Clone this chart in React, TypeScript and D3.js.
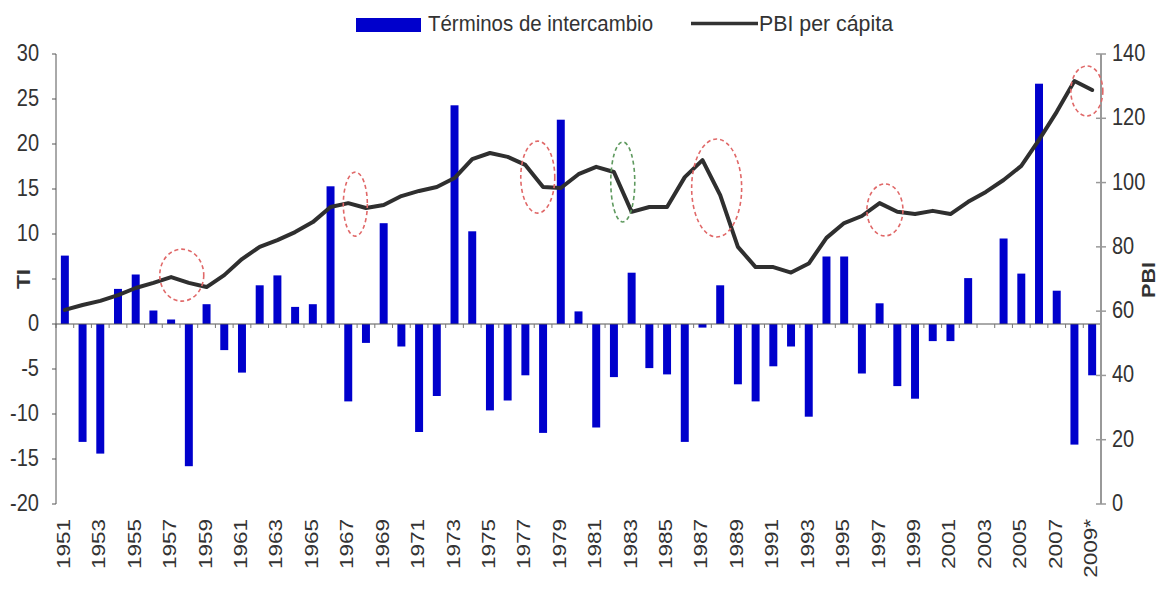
import React from "react";
import * as d3 from "d3";

const years: string[] = d3.range(1951, 2010).map((y) => (y === 2009 ? "2009*" : String(y)));

const termsOfTrade: number[] = [
  7.6, -13.1, -14.4, 3.9, 5.5, 1.5, 0.5, -15.8, 2.2, -2.9,
  -5.4, 4.3, 5.4, 1.9, 2.2, 15.3, -8.6, -2.1, 11.2, -2.5,
  -12.0, -8.0, 24.3, 10.3, -9.6, -8.5, -5.7, -12.1, 22.7, 1.4,
  -11.5, -5.9, 5.7, -4.9, -5.6, -13.1, -0.4, 4.3, -6.7, -8.6,
  -4.7, -2.5, -10.3, 7.5, 7.5, -5.5, 2.3, -6.9, -8.3, -1.9,
  -1.9, 5.1, 0, 9.5, 5.6, 26.7, 3.7, -13.4, -5.7,
];

const pbiPerCapita: number[] = [
  60.4, 61.9, 63.2, 65.0, 67.2, 68.8, 70.6, 68.8, 67.5, 71.2,
  76.2, 80.0, 82.1, 84.6, 87.7, 92.4, 93.6, 92.1, 93.0, 95.8,
  97.4, 98.6, 101.4, 107.3, 109.2, 108.0, 105.5, 98.6, 98.3, 102.6,
  104.9, 103.3, 90.9, 92.4, 92.4, 101.7, 107.0, 96.1, 80.0, 73.7,
  73.7, 72.0, 74.8, 82.8, 87.4, 89.6, 93.6, 90.9, 90.2, 91.2,
  90.2, 94.0, 97.1, 100.8, 105.2, 113.3, 122.0, 131.6, 128.8,
];

const leftTicks: number[] = [30, 25, 20, 15, 10, 5, 0, -5, -10, -15, -20];
const rightTicks: number[] = [140, 120, 100, 80, 60, 40, 20, 0];

// annotation ellipses: fractional year index from 1951, PBI value, radii, colour
const annoYear: number[] = [6.6, 16.4, 26.7, 31.5, 36.8, 46.3, 57.7];
const annoPbi: number[] = [71.2, 93.3, 101.7, 100.2, 98.3, 91.5, 128.5];
const annoRx: number[] = [22, 12, 17, 12, 25, 18, 16];
const annoRy: number[] = [26, 32, 36, 40, 49, 26, 25];
const annoColor: string[] = ["red", "red", "red", "green", "red", "red", "red"];

const legendLabels: string[] = ["Términos de intercambio", "PBI per cápita"];

const W = 1172;
const H = 589;
const left = 56;
const right = 1101;
const top = 54;
const bottom = 504;
const SY = 1.2;
const FONT = "'Liberation Sans', Arial, sans-serif";
const TXT = "#333";

export default function App() {
  const x = d3
    .scaleBand<string>()
    .domain(years)
    .range([left, right])
    .paddingInner(0.55)
    .paddingOuter(0.275);
  const step = x.step();
  const yL = d3.scaleLinear().domain([-20, 30]).range([bottom, top]);
  const yR = d3.scaleLinear().domain([0, 140]).range([bottom, top]);
  const cx = (i: number) => (x(years[i]) as number) + x.bandwidth() / 2;
  const cxFrac = (f: number) => left + step * (f + 0.5);

  const line = d3
    .line<number>()
    .x((_, i) => cx(i))
    .y((d) => yR(d));

  const zeroY = yL(0);
  const boundaries = d3.range(0, years.length + 1).map((i) => left + i * step);

  return (
    <svg width={W} height={H} style={{ display: "block", position: "absolute", left: 0, top: 0, background: "#fff" }}>
      <rect x={0} y={0} width={W} height={H} fill="#fff" />
      {/* legend */}
      <rect x={356} y={18} width={65} height={14} fill="#0000cc" />
      <text
        transform={`translate(428,31) scale(1,${SY})`}
        fontFamily={FONT}
        fontSize={19}
        fill={TXT}
        textLength={225}
        lengthAdjust="spacingAndGlyphs"
      >
        {legendLabels[0]}
      </text>
      <line x1={691} x2={758} y1={23.5} y2={23.5} stroke="#333" strokeWidth={3.5} />
      <text
        transform={`translate(759,31) scale(1,${SY})`}
        fontFamily={FONT}
        fontSize={19}
        fill={TXT}
        textLength={134}
        lengthAdjust="spacingAndGlyphs"
      >
        {legendLabels[1]}
      </text>

      {/* bars */}
      {termsOfTrade.map((v, i) => (
        <rect
          key={i}
          x={x(years[i]) as number}
          width={x.bandwidth()}
          y={Math.min(yL(v), zeroY)}
          height={Math.abs(yL(v) - zeroY)}
          fill="#0000cc"
        />
      ))}

      {/* x axis at zero */}
      <line x1={left} x2={right} y1={zeroY} y2={zeroY} stroke="#555" strokeWidth={1} />
      {boundaries.map((bx, i) => (
        <line key={i} x1={bx} x2={bx} y1={zeroY} y2={zeroY + 4} stroke="#777" strokeWidth={1} />
      ))}

      {/* left axis */}
      <line x1={left} x2={left} y1={top} y2={bottom} stroke="#555" strokeWidth={1} />
      {leftTicks.map((t) => (
        <g key={t}>
          <line x1={left - 4} x2={left} y1={yL(t)} y2={yL(t)} stroke="#555" />
          {t !== 5 ? (
            <text
              transform={`translate(39,${yL(t) + 7}) scale(1,${SY})`}
              textAnchor="end"
              fontFamily={FONT}
              fontSize={20}
              fill={TXT}
            >
              {t}
            </text>
          ) : null}
        </g>
      ))}
      <text
        transform={`translate(30,${yL(5)}) scale(1,${SY}) rotate(-90)`}
        textAnchor="middle"
        fontFamily={FONT}
        fontSize={19}
        fontWeight="bold"
        fill={TXT}
      >
        TI
      </text>

      {/* right axis */}
      <line x1={right} x2={right} y1={top} y2={bottom} stroke="#999" strokeWidth={2} />
      {rightTicks.map((t) => (
        <g key={t}>
          <line x1={right - 5} x2={right + 5} y1={yR(t)} y2={yR(t)} stroke="#999" strokeWidth={1.5} />
          <text
            transform={`translate(1112,${yR(t) + 7}) scale(1,${SY})`}
            fontFamily={FONT}
            fontSize={20}
            fill={TXT}
          >
            {t}
          </text>
        </g>
      ))}
      <text
        transform={`translate(1155,280) scale(1,${SY}) rotate(-90)`}
        textAnchor="middle"
        fontFamily={FONT}
        fontSize={18}
        fontWeight="bold"
        fill={TXT}
      >
        PBI
      </text>

      {/* PBI line */}
      <path
        d={line(pbiPerCapita) as string}
        fill="none"
        stroke="#2f2f2f"
        strokeWidth={4}
        strokeLinejoin="round"
        strokeLinecap="round"
      />

      {/* annotation ellipses */}
      {annoYear.map((f, i) => (
        <ellipse
          key={i}
          cx={cxFrac(f)}
          cy={yR(annoPbi[i])}
          rx={annoRx[i]}
          ry={annoRy[i]}
          fill="none"
          stroke={annoColor[i] === "green" ? "#5f9a5f" : "#e06868"}
          strokeWidth={1.6}
          strokeDasharray="4 3"
        />
      ))}

      {/* x labels */}
      {years.map((yr, i) =>
        i % 2 === 0 ? (
          <text
            key={yr}
            transform={`translate(${cx(i) + 5},519) scale(1,1.25) rotate(-90)`}
            textAnchor="end"
            fontFamily={FONT}
            fontSize={18}
            fill={TXT}
          >
            {yr}
          </text>
        ) : null
      )}
    </svg>
  );
}
